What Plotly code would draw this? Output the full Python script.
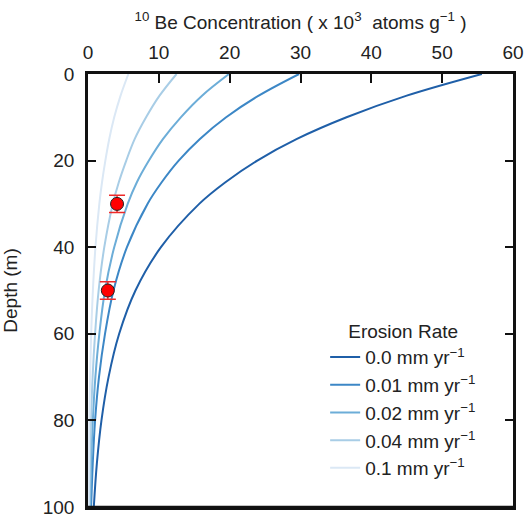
import plotly.graph_objects as go

# Depths (m) at which curve values were read
depth = [0, 5, 10, 15, 20, 25, 30, 40, 50, 60, 70, 80, 90, 100]

# 10Be concentration (x10^3 atoms/g) for each erosion rate
conc_0_0 = [55.6, 45.0, 36.5, 29.5, 23.9, 19.4, 15.7, 10.3, 6.7, 4.4, 2.9, 1.9, 1.25, 0.82]
conc_0_01 = [29.8, 24.1, 19.5, 15.8, 12.8, 10.4, 8.4, 5.5, 3.6, 2.4, 1.55, 1.0, 0.67, 0.44]
conc_0_02 = [19.9, 16.1, 13.1, 10.6, 8.6, 6.9, 5.6, 3.7, 2.4, 1.6, 1.04, 0.68, 0.45, 0.29]
conc_0_04 = [12.5, 10.1, 8.2, 6.6, 5.4, 4.35, 3.5, 2.3, 1.5, 1.0, 0.65, 0.43, 0.28, 0.18]
conc_0_1 = [5.7, 4.6, 3.7, 3.0, 2.45, 1.98, 1.6, 1.05, 0.69, 0.45, 0.30, 0.19, 0.13, 0.08]

series_names = ["0.0 mm yr<sup>−1</sup>", "0.01 mm yr<sup>−1</sup>", "0.02 mm yr<sup>−1</sup>",
                "0.04 mm yr<sup>−1</sup>", "0.1 mm yr<sup>−1</sup>"]
series_values = [conc_0_0, conc_0_01, conc_0_02, conc_0_04, conc_0_1]
series_colors = ["#1f5fa8", "#3c87c6", "#6cadd8", "#a8cde6", "#dbe8f5"]

# Measured samples
sample_conc = [4.1, 2.8]
sample_depth = [30, 50]
sample_err = [2, 2]

x_ticks = [0, 10, 20, 30, 40, 50, 60]
y_ticks = [0, 20, 40, 60, 80, 100]

font_family = "Liberation Sans, Arial, sans-serif"

fig = go.Figure()
for name, vals, col in zip(series_names, series_values, series_colors):
    fig.add_trace(go.Scatter(x=vals, y=depth, mode="lines", name=name,
                             line=dict(color=col, width=2, shape="spline", smoothing=1.0)))

fig.add_trace(go.Scatter(x=sample_conc, y=sample_depth, mode="markers", showlegend=False,
                         marker=dict(color="#ff0000", size=13, line=dict(color="#222222", width=1)),
                         error_y=dict(type="data", array=sample_err, color="#ee2a2a",
                                      thickness=1.5, width=8)))

# bottom frame edge of the plotting area
fig.add_shape(type="line", xref="paper", yref="paper", x0=0, x1=1, y0=0, y1=0,
              line=dict(color="#111111", width=2.5), layer="above")

fig.update_layout(
    width=528, height=516,
    margin=dict(l=88, r=15, t=74, b=9),
    paper_bgcolor="white", plot_bgcolor="white",
    font=dict(family=font_family, size=19, color="#222222"),
    showlegend=True,
    legend=dict(
        title=dict(text="Erosion Rate", side="top center", font=dict(size=19)),
        x=0.558, xanchor="left", y=0.045, yanchor="bottom",
        bgcolor="rgba(255,255,255,0)", font=dict(size=19),
        itemwidth=30, tracegroupgap=0,
    ),
    xaxis=dict(
        side="top", range=[0, 60], tickvals=x_ticks, automargin=False,
        ticks="inside", ticklen=9, tickwidth=1.5, tickcolor="#111111",
        ticklabelstandoff=5, ticklabeloverflow="allow",
        showline=True, linecolor="#111111", linewidth=2.5, mirror=True,
        showgrid=False, zeroline=False,
        tickfont=dict(size=19),
        title=dict(text="<sup>10</sup> Be Concentration ( x 10<sup>3</sup>  atoms g<sup>−1</sup> )",
                   font=dict(size=19), standoff=8),
    ),
    yaxis=dict(
        range=[100, 0], tickvals=y_ticks, automargin=False,
        ticks="inside", ticklen=8, tickwidth=1.5, tickcolor="#111111",
        ticklabelstandoff=7, ticklabeloverflow="allow",
        showline=True, linecolor="#111111", linewidth=2.5, mirror="ticks",
        showgrid=False, zeroline=False,
        tickfont=dict(size=19),
        title=dict(text="Depth (m)", font=dict(size=19), standoff=26),
    ),
)

fig.write_html("out.html",
               post_script="document.body.style.margin='0';document.body.style.overflow='hidden';",
               config={"displayModeBar": False})
